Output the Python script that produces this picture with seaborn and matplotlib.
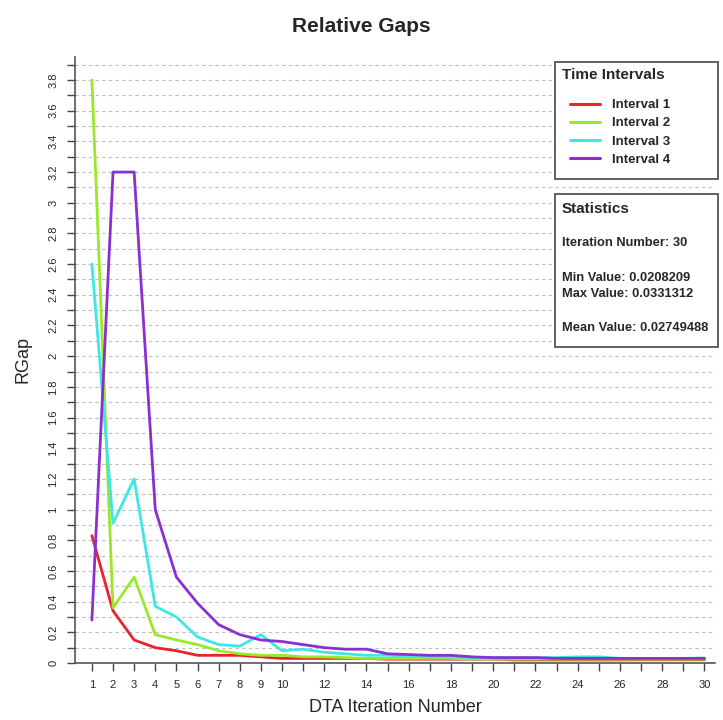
import numpy as np
import pandas as pd
import matplotlib
matplotlib.use("Agg")
import matplotlib.pyplot as plt
import seaborn as sns

# ---- data ----
iterations = list(range(1, 31))
interval_1 = [0.83, 0.34, 0.15, 0.10, 0.08, 0.05, 0.05, 0.05, 0.04, 0.03,
              0.03, 0.03, 0.03, 0.03, 0.025, 0.025, 0.025, 0.025, 0.025, 0.025,
              0.02, 0.02, 0.02, 0.02, 0.02, 0.02, 0.021, 0.021, 0.021, 0.021]
interval_2 = [3.8, 0.36, 0.56, 0.185, 0.15, 0.12, 0.08, 0.06, 0.05, 0.05,
              0.04, 0.04, 0.035, 0.03, 0.03, 0.03, 0.03, 0.03, 0.025, 0.025,
              0.025, 0.025, 0.025, 0.025, 0.025, 0.025, 0.025, 0.025, 0.025, 0.025]
interval_3 = [2.6, 0.91, 1.2, 0.37, 0.30, 0.17, 0.12, 0.11, 0.185, 0.08,
              0.09, 0.07, 0.06, 0.05, 0.05, 0.045, 0.04, 0.04, 0.035, 0.035,
              0.035, 0.035, 0.035, 0.04, 0.04, 0.03, 0.03, 0.03, 0.03, 0.033]
interval_4 = [0.28, 3.2, 3.2, 1.0, 0.56, 0.39, 0.25, 0.185, 0.15, 0.14,
              0.12, 0.10, 0.09, 0.09, 0.06, 0.055, 0.05, 0.05, 0.04, 0.035,
              0.035, 0.035, 0.03, 0.03, 0.03, 0.03, 0.03, 0.03, 0.03, 0.03]
series_names = ["Interval 1", "Interval 2", "Interval 3", "Interval 4"]
series_colors = ["#e8232b", "#9be82a", "#3fe6e6", "#8a2fd0"]

x_tick_labels = [str(i) if (i <= 10 or i % 2 == 0) else "" for i in iterations]
y_ticks = [round(0.2 * i, 1) for i in range(20)]
y_tick_labels = ["0", "0.2", "0.4", "0.6", "0.8", "1", "1.2", "1.4", "1.6", "1.8",
                 "2", "2.2", "2.4", "2.6", "2.8", "3", "3.2", "3.4", "3.6", "3.8"]

stats_lines = [("Iteration Number: 30", 243),
               ("Min Value: 0.0208209", 278),
               ("Max Value: 0.0331312", 294),
               ("Mean Value: 0.02749488", 328)]

# long form frame for seaborn
df = pd.DataFrame({
    "iteration": iterations * 4,
    "rgap": interval_1 + interval_2 + interval_3 + interval_4,
    "interval": sum([[n] * len(iterations) for n in series_names], []),
})

sns.set_style("white")
plt.rcParams['font.family'] = ['Liberation Sans', 'DejaVu Sans']

W, H = 723, 720
fig = plt.figure(figsize=(W / 100, H / 100), dpi=100)
ax = fig.add_axes([75 / W, 1 - 663 / H, 640 / W, 606 / H])


def fx(px):
    return px / W


def fy(py):
    return 1 - py / H


sns.lineplot(data=df, x="iteration", y="rgap", hue="interval",
             palette=dict(zip(series_names, series_colors)),
             linewidth=2, ax=ax, legend=True)

# grid: dashed every 0.1
for v in np.arange(0.1, 4.0, 0.1):
    ax.axhline(v, color="#bdbdbd", linestyle=(0, (3, 3)), linewidth=0.8, zorder=0)

ax.set_xlim(0.2, 30.5)
ax.set_ylim(0, 3.95)
ax.set_xticks(iterations)
ax.set_xticklabels(x_tick_labels, fontsize=8)
ax.set_yticks(np.arange(0, 4.0, 0.1), minor=True)
ax.set_yticks(y_ticks)
ax.set_yticklabels(y_tick_labels, fontsize=8, rotation=90, va="center")
ax.tick_params(axis="both", which="both", direction="out", length=6, width=1,
               color="#444444", left=True, bottom=True)
ax.tick_params(axis="x", pad=6)
ax.tick_params(axis="y", pad=6)

for side in ["top", "right"]:
    ax.spines[side].set_visible(False)
for side in ["left", "bottom"]:
    ax.spines[side].set_color("#555555")
    ax.spines[side].set_linewidth(1.2)

ax.set_xlabel("DTA Iteration Number", fontsize=13, labelpad=7)
ax.set_ylabel("RGap", fontsize=13, labelpad=12)
fig.text(0.5, fy(26), "Relative Gaps", fontsize=15, fontweight="bold",
         ha="center", va="center")

# legend box: white panel, then the seaborn handles as a figure legend on top
handles, labels = ax.get_legend_handles_labels()
ax.get_legend().remove()
fig.patches.append(plt.Rectangle((fx(555), fy(179)), fx(718) - fx(555), fy(62) - fy(179),
                                 transform=fig.transFigure, facecolor="white",
                                 edgecolor="#555555", linewidth=1.3, zorder=5))
fig.text(fx(562), fy(75), "Time Intervals", fontsize=11, fontweight="bold",
         ha="left", va="center", zorder=6)
leg = fig.legend(handles, labels, loc="upper left", bbox_to_anchor=(fx(570), fy(99)),
                 bbox_transform=fig.transFigure,
                 frameon=False, prop={"weight": "bold", "size": 9.5},
                 handlelength=2.3, handletextpad=0.85, borderpad=0,
                 borderaxespad=0, labelspacing=0.45)
leg.set_zorder(7)
for line in leg.get_lines():
    line.set_linewidth(2.2)

# statistics box
fig.patches.append(plt.Rectangle((fx(555), fy(347)), fx(718) - fx(555), fy(194) - fy(347),
                                 transform=fig.transFigure, facecolor="white",
                                 edgecolor="#555555", linewidth=1.3, zorder=5))
fig.text(fx(562), fy(209), "Statistics", fontsize=11, fontweight="bold",
         ha="left", va="center", zorder=6)
for txt, py in stats_lines:
    fig.text(fx(562), fy(py), txt, fontsize=9.3, fontweight="bold",
             ha="left", va="center", zorder=6)

fig.savefig("out.png", dpi=100)
